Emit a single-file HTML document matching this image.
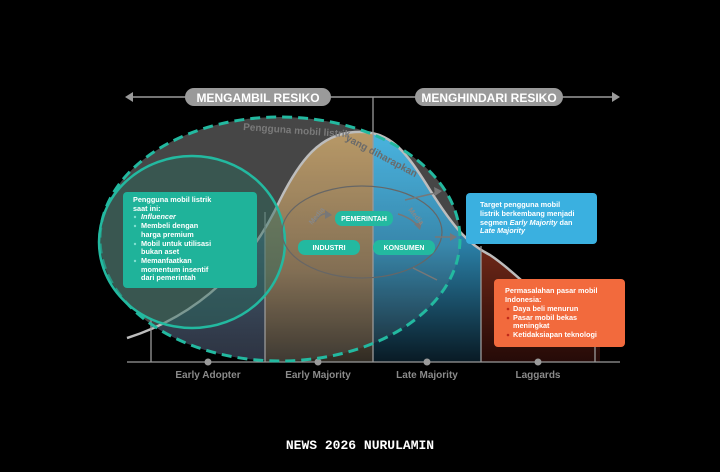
<!DOCTYPE html>
<html><head><meta charset="utf-8"><style>
html,body{margin:0;padding:0;background:#000;}
svg{display:block;}
text{font-family:"Liberation Sans",sans-serif;font-weight:bold;}
</style></head><body>
<svg width="720" height="472" viewBox="0 0 720 472" xmlns="http://www.w3.org/2000/svg">
<defs>
<linearGradient id="gold" x1="0" y1="0" x2="0" y2="1"><stop offset="0" stop-color="#b8955e"/><stop offset="0.6" stop-color="#7a6548"/><stop offset="1" stop-color="#2a2620"/></linearGradient>
<linearGradient id="blue" x1="0" y1="0" x2="0" y2="1"><stop offset="0" stop-color="#3fb4e4"/><stop offset="0.5" stop-color="#2a7fa6"/><stop offset="1" stop-color="#06131b"/></linearGradient>
<linearGradient id="slate" x1="0" y1="0" x2="0" y2="1"><stop offset="0" stop-color="#4a7a90"/><stop offset="1" stop-color="#1c2030"/></linearGradient>
<linearGradient id="org" x1="0" y1="0" x2="0" y2="1"><stop offset="0" stop-color="#c0482a"/><stop offset="1" stop-color="#200806"/></linearGradient>
<clipPath id="bell"><path d="M127,338 C200,315 250,265 280,200 C300,160 320,134 355,132 C390,130 405,150 430,190 C455,230 470,245 490,255 C520,275 560,320 600,345 L600,362 L127,362 Z"/></clipPath>
<clipPath id="ell"><ellipse cx="280" cy="239" rx="180" ry="122"/></clipPath>
</defs>
<line x1="130" y1="97" x2="615" y2="97" stroke="#9a9a9a" stroke-width="1.5"/>
<polygon points="125,97 133,92 133,102" fill="#9a9a9a"/>
<polygon points="620,97 612,92 612,102" fill="#9a9a9a"/>
<rect x="185" y="88" width="146" height="18" rx="9" fill="#9a9a9a"/>
<text x="258" y="102" font-size="12" fill="#fff" text-anchor="middle" font-weight="normal">MENGAMBIL RESIKO</text>
<rect x="415" y="88" width="148" height="18" rx="9" fill="#9a9a9a"/>
<text x="489" y="102" font-size="12" fill="#fff" text-anchor="middle" font-weight="normal">MENGHINDARI RESIKO</text>
<ellipse cx="280" cy="239" rx="180" ry="122" fill="#383838"/>
<g clip-path="url(#bell)">
<g clip-path="url(#ell)"><rect x="151" y="120" width="114" height="250" fill="url(#slate)"/></g>
<rect x="265" y="120" width="108" height="250" fill="url(#gold)"/>
<rect x="373" y="120" width="108" height="250" fill="url(#blue)"/>
<rect x="481" y="120" width="130" height="250" fill="url(#org)"/>
</g>
<g clip-path="url(#ell)"><rect x="100" y="100" width="380" height="270" fill="#ffffff" opacity="0.07"/></g>
<path d="M127,338 C200,315 250,265 280,200 C300,160 320,134 355,132 C390,130 405,150 430,190 C455,230 470,245 490,255 C520,275 560,320 600,345" fill="none" stroke="#bdbdbd" stroke-width="2.5"/>
<g stroke="#9a9a9a" stroke-width="1.3">
<line x1="151" y1="318" x2="151" y2="362"/><line x1="265" y1="212" x2="265" y2="362"/>
<line x1="373" y1="97" x2="373" y2="362"/><line x1="481" y1="246" x2="481" y2="362"/>
<line x1="595" y1="340" x2="595" y2="362"/>
<line x1="127" y1="362" x2="620" y2="362"/>
</g>
<g fill="#9a9a9a"><circle cx="208" cy="362" r="3.5"/><circle cx="318" cy="362" r="3.5"/><circle cx="427" cy="362" r="3.5"/><circle cx="538" cy="362" r="3.5"/></g>
<g font-size="10" fill="#8a8a8a" text-anchor="middle">
<text x="208" y="378">Early Adopter</text><text x="318" y="378">Early Majority</text>
<text x="427" y="378">Late Majority</text><text x="538" y="378">Laggards</text></g>
<ellipse cx="280" cy="239" rx="180" ry="122" fill="none" stroke="#23b9a0" stroke-width="3" stroke-dasharray="10,6"/>
<ellipse cx="192" cy="242" rx="93" ry="86" fill="#2a6a5e" fill-opacity="0.45" stroke="#23b9a0" stroke-width="2.5"/>
<text x="243" y="130" font-size="10" fill="#7a7a7a" transform="rotate(4 243 130)">Pengguna mobil listrik</text>
<text x="345" y="140" font-size="10" fill="#6a6a6a" transform="rotate(28 345 140)">yang diharapkan</text>
<ellipse cx="362" cy="232" rx="80" ry="46" fill="none" stroke="#666" stroke-width="1.2"/>
<g stroke="#777" stroke-width="1.5" fill="none">
<path d="M405,200 L440,192"/><path d="M435,237 L455,237"/><path d="M413,268 L437,280"/>
<path d="M315,222 Q320,212 330,214"/><path d="M398,214 Q412,218 420,228"/>
</g>
<g fill="#777"><polygon points="442,191 434,187 435,196"/><polygon points="457,237 450,233 450,241"/><polygon points="332,215 325,210 325,219"/><polygon points="420,230 414,224 422,222"/></g>
<text x="312" y="225" font-size="7" fill="#888" transform="rotate(-50 312 225)">Media</text>
<text x="408" y="210" font-size="7" fill="#888" transform="rotate(50 408 210)">Media</text>
<g fill="#23b9a0"><rect x="335" y="211" width="58" height="15" rx="7"/><rect x="298" y="240" width="62" height="15" rx="7"/><rect x="373" y="240" width="62" height="15" rx="7"/></g>
<g font-size="7" fill="#fff" text-anchor="middle"><text x="364" y="221">PEMERINTAH</text><text x="329" y="250">INDUSTRI</text><text x="404" y="250">KONSUMEN</text></g>
<rect x="123" y="192" width="134" height="96" rx="4" fill="#1fb39a"/>
<g font-size="7.3" fill="#fff">
<text x="133" y="202">Pengguna mobil listrik</text><text x="133" y="211">saat ini:</text>
<text x="141" y="219" font-style="italic">Influencer</text>
<text x="141" y="228">Membeli dengan</text><text x="141" y="237">harga premium</text>
<text x="141" y="246">Mobil untuk utilisasi</text><text x="141" y="254">bukan aset</text>
<text x="141" y="263">Memanfaatkan</text><text x="141" y="272">momentum insentif</text><text x="141" y="280">dari pemerintah</text>
</g>
<g fill="#7fe0d0"><circle cx="135" cy="217" r="1.2"/><circle cx="135" cy="226" r="1.2"/><circle cx="135" cy="244" r="1.2"/><circle cx="135" cy="261" r="1.2"/></g>
<rect x="466" y="193" width="131" height="51" rx="4" fill="#3ab0e0"/>
<g font-size="7.3" fill="#fff">
<text x="480" y="207">Target pengguna mobil</text><text x="480" y="216">listrik berkembang menjadi</text>
<text x="480" y="225">segmen <tspan font-style="italic">Early Majority</tspan> dan</text>
<text x="480" y="233" font-style="italic">Late Majority</text></g>
<rect x="494" y="279" width="131" height="68" rx="4" fill="#f26a3d"/>
<g font-size="7.3" fill="#fff">
<text x="505" y="293">Permasalahan pasar mobil</text><text x="505" y="302">Indonesia:</text>
<text x="513" y="311">Daya beli menurun</text><text x="513" y="320">Pasar mobil bekas</text>
<text x="513" y="328">meningkat</text><text x="513" y="337">Ketidaksiapan teknologi</text></g>
<g fill="#c02a1a"><circle cx="508" cy="309" r="1.3"/><circle cx="508" cy="318" r="1.3"/><circle cx="508" cy="335" r="1.3"/></g>
<text x="360" y="449" font-size="13" fill="#fff" text-anchor="middle" style="font-family:'Liberation Mono',monospace;font-weight:bold">NEWS 2026 NURULAMIN</text>
</svg>
</body></html>
